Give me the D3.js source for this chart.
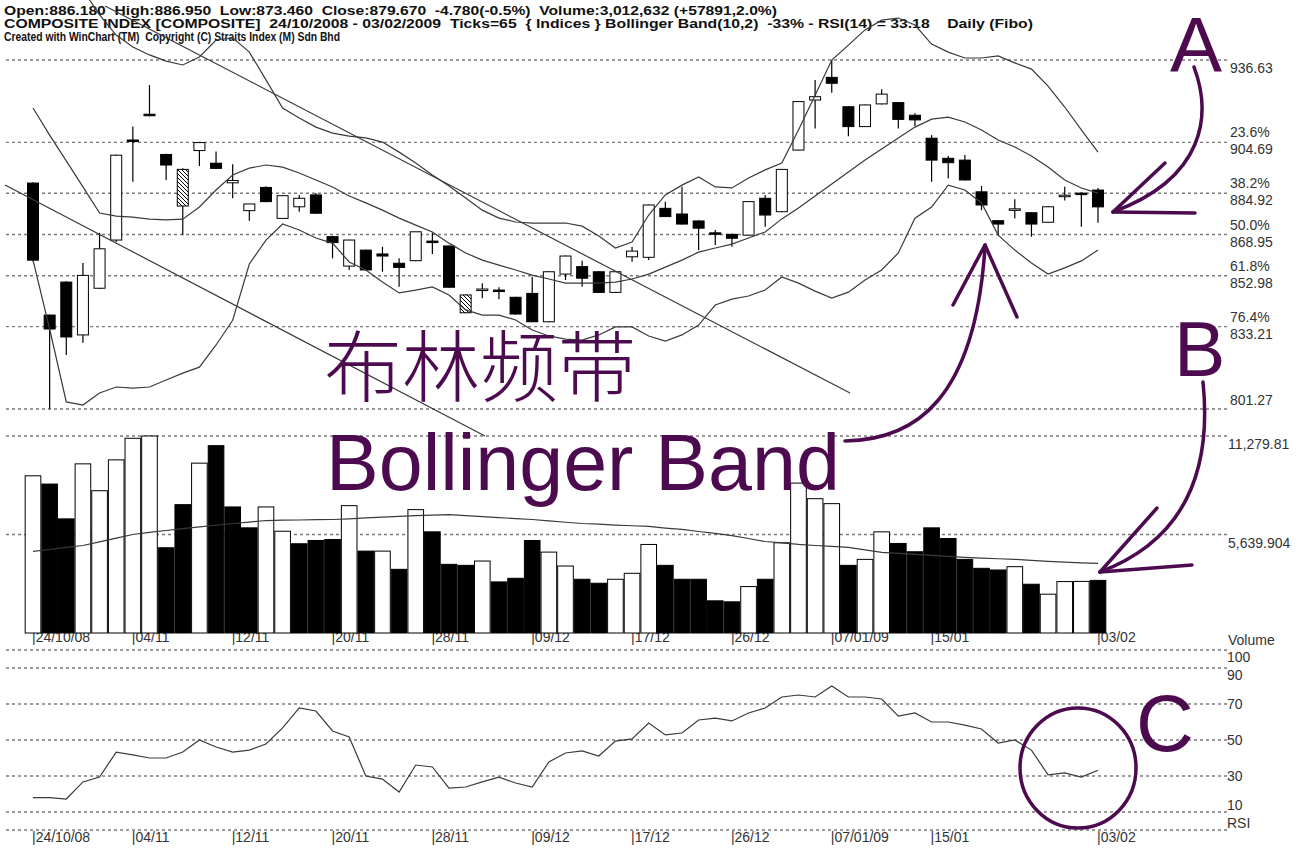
<!DOCTYPE html>
<html>
<head>
<meta charset="utf-8">
<script src="https://cdn.jsdelivr.net/npm/d3@7"></script>
<style>
body { margin: 0; background: #fff; }
svg { display: block; background: #fff; font-family: "Liberation Sans", Arial, sans-serif; }
.grid { stroke: #7a7a7a; stroke-width: 1.4; stroke-dasharray: 3,3; }
.axis-label { font-size: 14px; fill: #333; }
.head { font-size: 13px; font-weight: bold; fill: #111; white-space: pre; }
.ind { fill: none; stroke: #3a3a3a; stroke-width: 1.2; }
.note { fill: #4d0b4f; }
.note-line { fill: none; stroke: #4d0b4f; stroke-width: 3.5; stroke-linecap: round; }
</style>
</head>
<body>
<svg width="1299" height="859"></svg>
<script>
// trading days, 24/10/2008 - 03/02/2009 (65 ticks)
var dates = ["24/10/08","28/10/08","29/10/08","30/10/08","31/10/08","03/11/08","04/11/08","05/11/08","06/11/08","07/11/08",
    "10/11/08","11/11/08","12/11/08","13/11/08","14/11/08","17/11/08","18/11/08","19/11/08","20/11/08","21/11/08",
    "24/11/08","25/11/08","26/11/08","27/11/08","28/11/08","01/12/08","02/12/08","03/12/08","04/12/08","05/12/08",
    "09/12/08","10/12/08","11/12/08","12/12/08","15/12/08","16/12/08","17/12/08","18/12/08","19/12/08","22/12/08",
    "23/12/08","24/12/08","26/12/08","30/12/08","31/12/08","02/01/09","05/01/09","06/01/09","07/01/09","08/01/09",
    "09/01/09","12/01/09","13/01/09","14/01/09","15/01/09","16/01/09","19/01/09","20/01/09","21/01/09","22/01/09",
    "23/01/09","28/01/09","29/01/09","30/01/09","03/02/09"];

var openP = [888.9,837.7,850.5,830.0,848.1,866.8,905.6,915.6,900.0,880.0,
    901.5,896.6,889.0,878.2,887.2,875.2,879.7,884.3,868.1,856.7,
    862.9,861.4,857.8,858.8,866.4,864.5,838.6,847.6,847.4,844.6,
    846.1,835.1,853.6,856.5,854.5,846.5,860.3,860.1,879.1,876.9,
    874.2,869.6,869.0,868.7,883.0,877.8,901.7,921.1,929.9,918.5,
    910.8,919.6,920.1,915.2,906.3,898.5,897.8,885.5,874.3,878.5,
    877.4,873.7,884.0,885.0,886.18];
var highP = [889.2,837.9,850.8,857.9,869.6,900.0,910.8,926.9,900.3,894.6,
    904.6,901.1,896.2,880.8,887.7,884.2,884.3,885.0,868.4,866.9,
    863.0,864.2,859.7,870.0,869.6,864.7,845.7,850.0,848.5,844.8,
    852.6,854.7,860.8,858.8,854.7,854.7,864.2,880.6,881.7,887.5,
    874.4,870.7,869.2,881.9,884.3,894.4,920.7,928.9,936.63,918.7,
    919.4,925.3,920.3,916.0,907.5,899.4,899.8,887.8,874.5,882.6,
    877.6,879.9,887.5,885.2,886.95];
var lowP = [858.5,801.27,822.2,827.0,847.8,866.0,889.4,914.8,890.1,868.7,
    895.5,894.4,883.0,874.3,881.5,875.0,877.8,877.0,859.7,855.2,
    855.0,854.5,848.7,858.6,861.4,848.3,838.4,844.2,843.8,837.9,
    835.0,834.9,851.3,848.7,846.3,846.3,858.4,859.1,875.7,872.8,
    862.9,864.9,864.2,868.5,872.0,877.6,901.5,910.1,923.9,907.1,
    910.6,919.4,910.1,911.0,889.4,890.7,889.9,878.4,868.7,875.2,
    868.1,873.5,882.1,872.0,873.46];
var closeP = [859.0,832.3,829.2,853.1,863.4,899.7,905.0,915.2,895.9,894.2,
    904.6,894.6,889.9,880.8,881.7,884.0,883.0,877.2,865.8,866.8,
    855.2,860.6,856.2,870.0,866.0,848.5,845.5,847.8,847.2,838.1,
    835.1,854.5,860.6,852.0,846.5,854.5,862.5,880.4,875.9,873.0,
    871.4,869.1,867.5,881.7,876.5,894.2,920.5,922.4,927.6,910.8,
    919.2,923.4,913.6,913.4,897.8,896.8,890.1,880.4,873.0,878.9,
    873.0,879.7,884.2,884.45,879.67];

// volume in thousands
var volume = [9001,8528,6534,9685,8147,9913,11149,11279.81,4882,7349,
    9725,10727,7218,6021,7218,5828,5110,5298,5355,7292,
    4689,4689,3646,7064,5792,3931,3874,4120,2925,3133,
    5298,4632,3836,3076,2849,3076,3418,5070,3874,3076,
    3076,1842,1785,2659,3076,5166,8584,7691,7406,3874,
    4216,5792,5127,4652,6021,5412,4216,3703,3608,3798,
    2792,2222,2944,2954.741,3012.632];
var volumeMA = [4670,4780,4900,5010,5220,5430,5640,5760,5870,5980,
    6080,6170,6270,6350,6440,6460,6470,6490,6500,6540,
    6590,6630,6680,6720,6750,6780,6720,6660,6610,6550,
    6500,6420,6340,6270,6230,6180,6140,6100,6010,5930,
    5810,5700,5580,5410,5240,5160,5070,5010,4960,4900,
    4760,4620,4560,4500,4440,4390,4330,4290,4250,4220,
    4160,4100,4060,4020,3990];

// Bollinger Band(10,2)
var bbUpper = [1000,990,978,963.8,954.1,946.3,941.7,938.6,936.2,934.7,
    937.8,944.4,945.2,939.7,928.9,918.0,914.1,910.6,908.3,907.1,
    906.4,904.8,900.9,896.7,892.0,887.8,883.1,878.4,875.3,873.8,
    873.4,873.4,873.4,872.2,868.4,863.7,866.0,876.5,884.3,888.1,
    891.3,887.4,887.0,890.9,894.0,896.7,909.5,923.0,936.6,942.4,
    948.3,952.1,952.9,950.2,942.8,939.7,937.4,937.4,938.2,935.5,
    933.1,926.5,918.4,909.5,900.9];
var bbMiddle = [918.0,907.5,897.5,887.4,877.3,876.1,875.7,874.9,874.6,874.9,
    879.6,886.2,892.0,894.7,895.9,895.1,892.8,890.1,887.4,883.9,
    881.2,878.4,875.3,872.6,869.9,865.6,861.8,859.0,857.1,855.2,
    853.2,851.7,850.1,850.1,850.1,850.5,851.7,853.6,856.3,859.0,
    862.1,863.7,865.2,867.6,869.9,875.0,879.2,883.9,888.5,893.2,
    897.8,902.1,906.4,910.6,913.7,914.5,912.6,909.5,905.6,902.9,
    899.4,895.1,890.1,887.0,885.0];
var bbLower = [859.0,832.3,804.0,802.8,807.5,809.8,809.4,809.8,812.5,815.2,
    817.5,826.1,835.7,857.5,866.8,873.0,870.7,867.6,865.6,858.3,
    855.2,850.5,846.3,847.4,848.6,845.5,839.7,837.7,837.7,835.8,
    831.9,829.6,828.4,828.0,830.0,833.1,833.1,829.6,827.6,830.0,
    833.8,841.6,843.9,845.1,847.4,852.5,850.1,847.0,844.3,846.6,
    851.3,855.2,861.8,875.3,879.6,888.1,886.2,881.2,868.7,862.9,
    857.9,853.6,856.0,858.7,862.9];

// RSI(14)
var rsi = [18.0,18.0,17.2,26.7,29.4,43.3,41.7,40.0,40.0,43.3,
    50.0,46.1,43.3,44.4,47.8,56.7,67.8,66.1,55.0,51.7,
    30.0,28.3,21.1,36.1,35.0,23.3,23.9,26.7,29.4,26.1,
    23.9,37.8,42.8,43.9,41.1,49.4,50.6,59.4,52.8,53.9,
    61.1,62.2,60.6,65.0,67.8,73.9,75.0,73.9,80.0,73.9,
    73.9,72.8,63.3,65.0,60.0,60.0,58.3,56.1,48.3,50.0,
    44.4,30.6,31.7,29.4,33.18];

var hatchedDays = ["07/11/08", "02/12/08"];

// trend lines: [tick position, price] pairs
var trendLines = [
    [[-1.68, 888.14], [27.16, 790.78]],
    [[4.33, 957.58], [49.1, 807.46]]
];

var priceLevels = [936.63, 904.69, 884.92, 868.95, 852.98, 833.21, 801.27];
var fibLabels = ["", "23.6%", "38.2%", "50.0%", "61.8%", "76.4%", ""];
var volumeLevels = [11279.81, 5639.904];
var volumeText = ["11,279.81", "5,639.904"];
var rsiLevels = [100, 90, 70, 50, 30, 10, 0];
var rsiText = ["100", "90", "70", "50", "30", "10", ""];
var tickIdx = [0, 6, 12, 18, 24, 30, 36, 42, 48, 54, 64];
var tickText = ["24/10/08", "04/11", "12/11", "20/11", "28/11", "09/12", "17/12", "26/12", "07/01/09", "15/01", "03/02"];

var headLines = [
    "Open:886.180  High:886.950  Low:873.460  Close:879.670  -4.780(-0.5%)  Volume:3,012,632 (+57891,2.0%)",
    "COMPOSITE INDEX [COMPOSITE]  24/10/2008 - 03/02/2009  Ticks=65  { Indices } Bollinger Band(10,2)  -33% - RSI(14) = 33.18    Daily (Fibo)",
    "Created with WinChart (TM)  Copyright (C) Straits Index (M) Sdn Bhd"
];
var headWidths = [773, 1029, 336];

var svg = d3.select("svg");

var x = d3.scaleLinear().domain([0, dates.length - 1]).range([33, 1098]);
var yP = d3.scaleLinear().domain([801.27, 936.63]).range([409, 60]);
var yV = d3.scaleLinear().domain([0, 11279.81]).range([633, 436]);
var yR = d3.scaleLinear().domain([0, 100]).range([830, 650]);

var gridX1 = 6, gridX2 = 1228, labelX = 1230;

var defs = svg.append("defs");
var pat = defs.append("pattern")
    .attr("id", "hatch")
    .attr("patternUnits", "userSpaceOnUse")
    .attr("width", 4).attr("height", 4);
pat.append("rect").attr("width", 4).attr("height", 4).attr("fill", "#fff");
pat.append("path").attr("d", "M-1,-1 L5,5 M-1,3 L1,5 M3,-1 L5,1")
    .attr("stroke", "#000").attr("stroke-width", 1);

// header
svg.append("g").selectAll("text")
    .data(headLines)
    .enter().append("text")
    .attr("class", "head")
    .attr("x", 4)
    .attr("y", function (d, i) { return 15 + i * 13; })
    .attr("textLength", function (d, i) { return headWidths[i]; })
    .attr("lengthAdjust", "spacingAndGlyphs")
    .text(function (d) { return d; });

// grid lines
var grid = svg.append("g");
grid.selectAll("line.p").data(priceLevels).enter().append("line")
    .attr("class", "grid p")
    .attr("x1", gridX1).attr("x2", gridX2)
    .attr("y1", function (d) { return yP(d); })
    .attr("y2", function (d) { return yP(d); });
grid.selectAll("line.v").data(volumeLevels).enter().append("line")
    .attr("class", "grid v")
    .attr("x1", gridX1).attr("x2", gridX2)
    .attr("y1", function (d) { return yV(d); })
    .attr("y2", function (d) { return yV(d); });
grid.selectAll("line.r").data(rsiLevels).enter().append("line")
    .attr("class", "grid r")
    .attr("x1", gridX1).attr("x2", gridX2)
    .attr("y1", function (d) { return yR(d); })
    .attr("y2", function (d) { return yR(d); });

// right labels: price / fibonacci
var lab = svg.append("g").attr("class", "axis-label");
priceLevels.forEach(function (p, i) {
    var y = yP(p);
    if (i === 0) {
        lab.append("text").attr("x", labelX).attr("y", y + 13).text(p.toFixed(2));
    } else if (i === priceLevels.length - 1) {
        lab.append("text").attr("x", labelX).attr("y", y - 4).text(p.toFixed(2));
    } else {
        lab.append("text").attr("x", labelX).attr("y", y - 5).text(fibLabels[i]);
        lab.append("text").attr("x", labelX).attr("y", y + 12).text(p.toFixed(2));
    }
});
volumeLevels.forEach(function (v, i) {
    lab.append("text").attr("x", labelX - 2).attr("y", yV(v) + 13).text(volumeText[i]);
});
lab.append("text").attr("x", labelX - 2).attr("y", 645).text("Volume");
rsiLevels.forEach(function (v, i) {
    if (!rsiText[i]) return;
    var off = v >= 90 ? 12 : (v <= 10 ? -2 : 5);
    lab.append("text").attr("x", labelX - 3).attr("y", yR(v) + off).text(rsiText[i]);
});
lab.append("text").attr("x", labelX - 3).attr("y", 828).text("RSI");

// date labels (volume row and RSI row)
[642, 842].forEach(function (yy) {
    lab.append("g").selectAll("text")
        .data(tickIdx)
        .enter().append("text")
        .attr("x", function (d) { return x(d) - 1; })
        .attr("y", yy)
        .text(function (d, i) { return "|" + tickText[i]; });
});

// volume bars
var bw = x(1) - x(0);
svg.append("g").selectAll("rect")
    .data(volume)
    .enter().append("rect")
    .attr("x", function (d, i) { return x(i) - bw / 2 + 0.5; })
    .attr("y", function (d) { return yV(d); })
    .attr("width", bw - 1)
    .attr("height", function (d) { return yV(0) - yV(d); })
    .attr("fill", function (d, i) {
        return (i === 0 || closeP[i] >= closeP[i - 1]) ? "#fff" : "#000";
    })
    .attr("stroke", "#000")
    .attr("stroke-width", 1);

var lineFor = function (scale) {
    return d3.line()
        .x(function (d, i) { return x(i); })
        .y(function (d) { return scale(d); });
};

svg.append("path").datum(volumeMA)
    .attr("class", "ind")
    .attr("stroke", "#555")
    .attr("d", lineFor(yV));

// candles
var cw = 11;
var candle = svg.append("g").selectAll("g")
    .data(dates)
    .enter().append("g");

candle.append("line")
    .attr("x1", function (d, i) { return x(i); })
    .attr("x2", function (d, i) { return x(i); })
    .attr("y1", function (d, i) { return yP(highP[i]); })
    .attr("y2", function (d, i) { return yP(lowP[i]); })
    .attr("stroke", "#000")
    .attr("stroke-width", 1.2);

candle.append("rect")
    .attr("x", function (d, i) { return x(i) - cw / 2; })
    .attr("y", function (d, i) { return yP(Math.max(openP[i], closeP[i])); })
    .attr("width", cw)
    .attr("height", function (d, i) {
        return Math.max(1.5, Math.abs(yP(openP[i]) - yP(closeP[i])));
    })
    .attr("fill", function (d, i) {
        if (closeP[i] < openP[i]) return "#000";
        if (hatchedDays.indexOf(d) >= 0) return "url(#hatch)";
        return "#fff";
    })
    .attr("stroke", "#000")
    .attr("stroke-width", 1);

// bollinger bands
[bbUpper, bbMiddle, bbLower].forEach(function (band) {
    svg.append("path").datum(band)
        .attr("class", "ind")
        .attr("d", lineFor(yP));
});

// trend lines
svg.append("g").selectAll("line")
    .data(trendLines)
    .enter().append("line")
    .attr("class", "ind")
    .attr("x1", function (d) { return x(d[0][0]); })
    .attr("y1", function (d) { return yP(d[0][1]); })
    .attr("x2", function (d) { return x(d[1][0]); })
    .attr("y2", function (d) { return yP(d[1][1]); });

// RSI line
svg.append("path").datum(rsi)
    .attr("class", "ind")
    .attr("stroke", "#444")
    .attr("d", lineFor(yR));

// annotations
var notes = svg.append("g");
notes.append("text").attr("class", "note")
    .attr("x", 324).attr("y", 396)
    .style("font-family", "'Noto Sans CJK SC', sans-serif")
    .style("font-size", "78px")
    .style("font-weight", "300")
    .text("布林频带");
notes.append("text").attr("class", "note")
    .attr("x", 326).attr("y", 490)
    .style("font-size", "79px")
    .text("Bollinger Band");
notes.append("text").attr("class", "note")
    .attr("x", 1170).attr("y", 72).style("font-size", "78px").text("A");
notes.append("text").attr("class", "note")
    .attr("x", 1174).attr("y", 376).style("font-size", "77px").text("B");
notes.append("text").attr("class", "note")
    .attr("x", 1136).attr("y", 751).style("font-size", "80px").text("C");

var arrows = [
    "M1194,67 C1212,115 1205,178 1113,212",
    "M1113,212 L1165,163",
    "M1113,212 L1195,213",
    "M845,441 C915,440 975,400 985,247",
    "M985,245 L953,305",
    "M985,245 L1017,317",
    "M1203,382 C1212,470 1185,540 1100,572",
    "M1100,572 L1157,508",
    "M1100,572 L1192,565"
];
notes.selectAll("path").data(arrows).enter().append("path")
    .attr("class", "note-line")
    .attr("d", function (d) { return d; });
notes.append("ellipse")
    .attr("class", "note-line")
    .attr("cx", 1078).attr("cy", 768)
    .attr("rx", 58).attr("ry", 60);
</script>
</body>
</html>
